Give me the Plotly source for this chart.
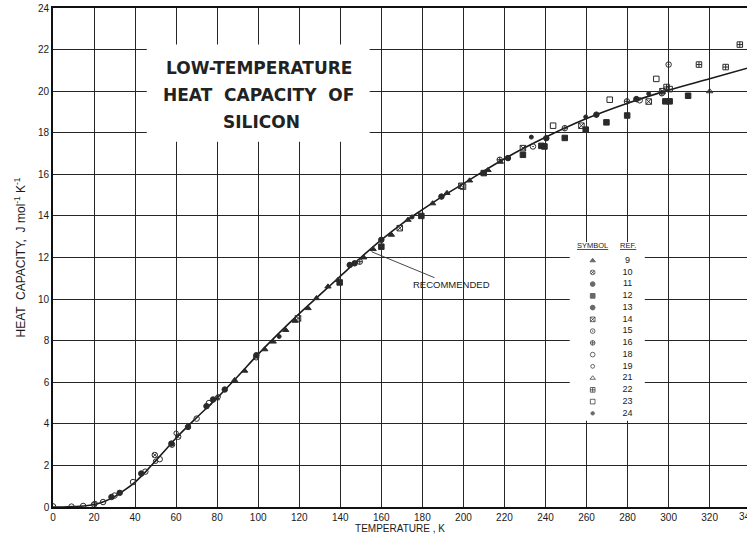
import plotly.graph_objects as go

# Recommended heat capacity curve of silicon (T in K, Cp in J mol^-1 K^-1)
curve_T = [0, 5, 10, 15, 20, 25, 30, 35, 40, 45, 50, 55, 60, 70, 80, 90, 100, 110,
           120, 130, 140, 150, 160, 170, 180, 190, 200, 220, 240, 260, 280, 300, 320, 340]
curve_Cp = [0, 0.003, 0.02, 0.05, 0.12, 0.27, 0.5, 0.82, 1.2, 1.68, 2.22, 2.77, 3.32,
            4.3, 5.25, 6.28, 7.35, 8.35, 9.3, 10.2, 11.1, 12.0, 12.85, 13.62, 14.3,
            14.95, 15.55, 16.75, 17.78, 18.68, 19.42, 20.05, 20.6, 21.15]

# Experimental points, one pair of lists per reference
ref09_T = [88.5, 93.4, 103.2, 107.3, 113.4, 118, 124.3, 128.4, 134, 138.9, 151.4, 156,
           164.9, 173, 185, 192, 203, 212, 218]
ref09_Cp = [6.1, 6.55, 7.58, 7.95, 8.51, 8.95, 9.56, 10.04, 10.6, 10.92, 12.0, 12.4,
            13.09, 13.81, 14.6, 15.1, 15.7, 16.2, 16.6]
ref10_T = [49.6, 61, 99]
ref10_Cp = [2.5, 3.38, 7.2]
ref11_T = [28.5, 32.5, 43, 57.7, 65.8, 74.8, 78, 83.7]
ref11_Cp = [0.48, 0.68, 1.61, 3.05, 3.85, 4.85, 5.17, 5.65]
ref12_T = [139.7, 160, 179.5, 209.9, 229, 238, 239.5, 249.4, 259.6, 269.7, 279.8, 298.4,
           300.5, 309.5]
ref12_Cp = [10.8, 12.52, 14.0, 16.06, 16.94, 17.37, 17.34, 17.75, 18.15, 18.5, 18.83,
            19.51, 19.51, 19.78]
ref13_T = [99.1, 144.6, 147, 160, 189.3, 221.7, 240.4, 264.8, 284.3]
ref13_Cp = [7.3, 11.64, 11.72, 12.85, 14.93, 16.78, 17.74, 18.87, 19.62]
ref14_T = [119.4, 169, 199, 229, 257.5, 290.3, 297]
ref14_Cp = [9.07, 13.41, 15.45, 17.26, 18.34, 19.5, 20.0]
ref15_T = [233.9, 285.9, 300]
ref15_Cp = [17.34, 19.56, 21.28]
ref16_T = [149.5, 217.7, 249.4, 279.7, 296.7]
ref16_Cp = [11.8, 16.7, 18.22, 19.51, 19.9]
ref18_T = [0, 9, 14.7, 20, 24.4, 30, 39, 45, 52, 58, 70, 76]
ref18_Cp = [0.03, 0.02, 0.05, 0.12, 0.24, 0.55, 1.2, 1.7, 2.3, 3.0, 4.25, 5.0]
ref19_T = [20.5, 50, 60, 80.5]
ref19_Cp = [0.17, 2.2, 3.55, 5.3]
ref21_T = [79.6, 320]
ref21_Cp = [5.22, 19.99]
ref22_T = [299, 314.8, 327.8, 334.7]
ref22_Cp = [20.2, 21.28, 21.16, 22.24]
ref23_T = [199.8, 243.7, 271.3, 294, 300.5]
ref23_Cp = [15.41, 18.34, 19.59, 20.59, 20.1]
ref24_T = [110.2, 175, 233.1, 259.6, 290.3]
ref24_Cp = [8.2, 13.95, 17.79, 18.76, 19.88]

ref_labels = ["9", "10", "11", "12", "13", "14", "15", "16", "18", "19", "21", "22", "23", "24"]
ref_symbols = ["triangle-up", "circle-x-open", "circle", "square", "circle-cross",
               "square-x-open", "circle-open-dot", "circle-cross-open", "circle-open",
               "circle-open", "triangle-up-open", "square-cross-open", "square-open", "circle"]
ref_sizes = [5.5, 5.5, 5.5, 5.5, 5.5, 5.5, 5.5, 5.5, 5.5, 4.5, 5.5, 5.5, 5.5, 4]
ref_T = [ref09_T, ref10_T, ref11_T, ref12_T, ref13_T, ref14_T, ref15_T, ref16_T,
         ref18_T, ref19_T, ref21_T, ref22_T, ref23_T, ref24_T]
ref_Cp = [ref09_Cp, ref10_Cp, ref11_Cp, ref12_Cp, ref13_Cp, ref14_Cp, ref15_Cp, ref16_Cp,
          ref18_Cp, ref19_Cp, ref21_Cp, ref22_Cp, ref23_Cp, ref24_Cp]

x_ticks = list(range(0, 341, 20))
y_ticks = list(range(0, 25, 2))
X_MAX = 338.2

INK = "#1a1a1a"
FONT = "Liberation Sans Narrow, Liberation Sans, Arial, sans-serif"

fig = go.Figure()

fig.add_trace(go.Scatter(x=curve_T, y=curve_Cp, mode="lines", line=dict(color=INK, width=1.6, shape="spline"),
                         hoverinfo="skip", showlegend=False))

for lab, sym, sz, xs, ys in zip(ref_labels, ref_symbols, ref_sizes, ref_T, ref_Cp):
    fig.add_trace(go.Scatter(x=xs, y=ys, mode="markers", name=lab,
                             marker=dict(symbol=sym, size=sz, color="#2a2a2a",
                                         line=dict(color="#2a2a2a", width=1)),
                             showlegend=False))

# Symbol / reference key table
key_sym_x = 263
key_ref_x = 280
key_top = 11.85
key_step = 0.565
key_rows = [key_top - i * key_step for i in range(len(ref_labels))]
fig.add_trace(go.Scatter(x=[key_sym_x] * len(ref_labels), y=key_rows, mode="markers",
                         marker=dict(symbol=ref_symbols, size=[s * 0.85 for s in ref_sizes],
                                     color="#2a2a2a", line=dict(color="#2a2a2a", width=1)),
                         hoverinfo="skip", showlegend=False))
fig.add_trace(go.Scatter(x=[key_ref_x] * len(ref_labels), y=key_rows, mode="text",
                         text=ref_labels, textfont=dict(family=FONT, size=9, color=INK),
                         hoverinfo="skip", showlegend=False))

annotations = [
    dict(x=key_sym_x, y=key_top + 0.72, xref="x", yref="y", text="<u>SYMBOL</u>", showarrow=False,
         font=dict(family=FONT, size=7.5, color=INK)),
    dict(x=key_ref_x, y=key_top + 0.72, xref="x", yref="y", text="<u>REF.</u>", showarrow=False,
         font=dict(family=FONT, size=7.5, color=INK)),
    dict(x=100.2, y=21.13, xref="x", yref="y", text="<b>LOW-TEMPERATURE</b>", showarrow=False,
         font=dict(family="DejaVu Sans", size=17, color="#222")),
    dict(x=100.2, y=19.83, xref="x", yref="y", text="<b>HEAT  CAPACITY  OF</b>", showarrow=False,
         font=dict(family="DejaVu Sans", size=17, color="#222")),
    dict(x=101.5, y=18.53, xref="x", yref="y", text="<b>SILICON</b>", showarrow=False,
         font=dict(family="DejaVu Sans", size=17, color="#222")),
    dict(x=155.2, y=12.28, xref="x", yref="y", text="RECOMMENDED", showarrow=True,
         arrowhead=0, arrowwidth=0.9, arrowcolor="#333", ax=80, ay=33, standoff=0,
         font=dict(family=FONT, size=9.5, color=INK)),
    # last tick label sits on the right edge of the page, as on the original sheet
    dict(x=340 / X_MAX, y=0, xref="paper", yref="paper", text="340", showarrow=False,
         xanchor="center", yanchor="top", xshift=-3, yshift=-2,
         font=dict(family=FONT, size=10, color=INK)),
]

shapes = [
    dict(type="rect", xref="x", yref="y", x0=45.7, x1=154.3, y0=17.57, y1=22.24,
         fillcolor="white", line=dict(width=0), layer="between"),
    dict(type="rect", xref="x", yref="y", x0=251.8, x1=288.4, y0=4.15, y1=12.75,
         fillcolor="white", line=dict(width=0), layer="between"),
]

fig.update_layout(
    width=747, height=535,
    margin=dict(l=53, r=0, t=8, b=28),
    paper_bgcolor="white", plot_bgcolor="white",
    annotations=annotations, shapes=shapes,
    font=dict(family=FONT, size=10, color=INK),
)
fig.update_xaxes(range=[0, X_MAX], tickvals=x_ticks, showgrid=True, gridcolor="#262626", gridwidth=1.1,
                 showline=True, linecolor="#111", linewidth=1.6, mirror=True, zeroline=False,
                 ticks="", tickfont=dict(family=FONT, size=10, color=INK),
                 title=dict(text="TEMPERATURE , K", font=dict(family=FONT, size=10, color=INK), standoff=2))
fig.update_yaxes(range=[0, 24], tickvals=y_ticks, showgrid=True, gridcolor="#262626", gridwidth=1.1,
                 showline=True, linecolor="#111", linewidth=1.6, zeroline=False,
                 ticks="", tickfont=dict(family=FONT, size=10, color=INK),
                 title=dict(text="HEAT  CAPACITY,  J mol<sup>-1</sup> K<sup>-1</sup>",
                            font=dict(family=FONT, size=12, color=INK), standoff=10))

fig.write_html("out.html")
